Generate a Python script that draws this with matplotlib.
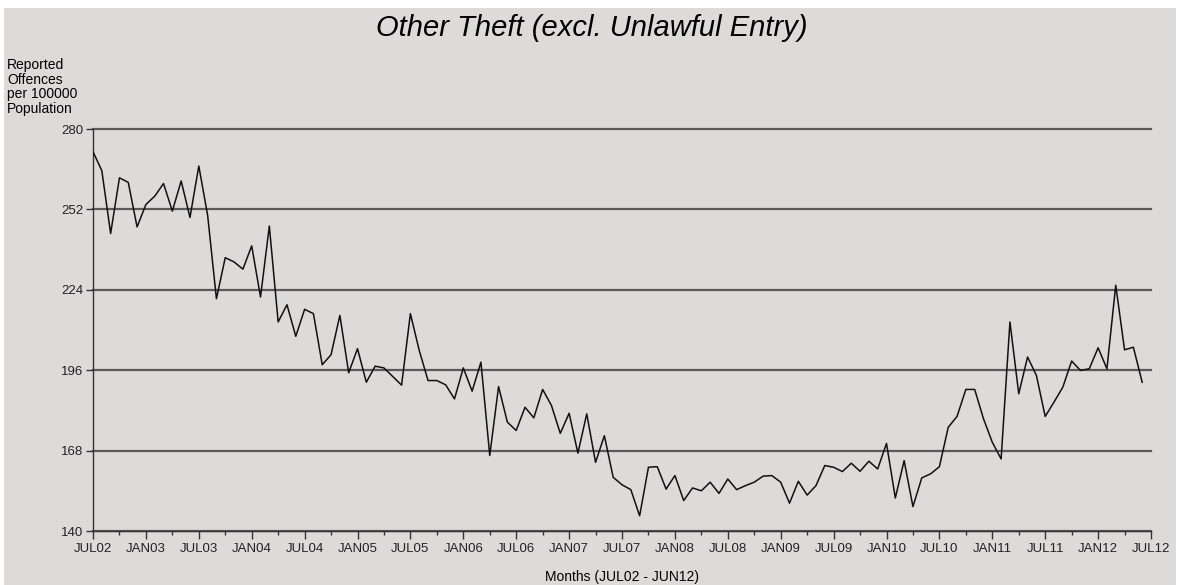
import numpy as np
import matplotlib
matplotlib.use("Agg")
from matplotlib import pyplot as plt
from matplotlib.patches import Rectangle

# Monthly rates, JUL02 .. JUN12
rates = [
    272.1, 265.5, 243.6, 263.0, 261.4, 245.9, 253.7, 256.6, 261.0, 251.4,
    261.9, 249.2, 267.1, 250.0, 220.9, 235.2, 233.7, 231.2, 239.3, 221.5,
    246.2, 212.8, 218.8, 207.8, 217.2, 215.7, 197.9, 201.4, 215.1, 195.1,
    203.5, 191.8, 197.4, 196.8, 193.8, 190.8, 215.7, 202.9, 192.4, 192.4,
    190.9, 186.0, 196.8, 188.7, 198.8, 166.3, 190.3, 177.9, 175.0, 183.1,
    179.4, 189.3, 183.7, 174.0, 181.0, 167.1, 180.8, 163.9, 173.2, 158.7,
    156.1, 154.4, 145.3, 162.2, 162.4, 154.6, 159.3, 150.6, 155.0, 154.0,
    157.0, 153.1, 158.1, 154.4, 155.8, 157.0, 159.1, 159.3, 157.0, 149.7,
    157.3, 152.5, 155.8, 162.8, 162.2, 160.7, 163.6, 160.8, 164.3, 161.6,
    170.5, 151.5, 164.5, 148.5, 158.5, 159.9, 162.4, 176.1, 179.9, 189.3,
    189.3, 179.1, 170.9, 165.1, 212.8, 187.8, 200.6, 194.2, 179.9, 184.9,
    190.1, 199.2, 195.9, 196.5, 203.8, 196.5, 225.6, 203.1, 204.0, 191.8,
]
month_labels = ["JUL02", "JAN03", "JUL03", "JAN04", "JUL04", "JAN05", "JUL05",
                "JAN06", "JUL06", "JAN07", "JUL07", "JAN08", "JUL08", "JAN09",
                "JUL09", "JAN10", "JUL10", "JAN11", "JUL11", "JAN12", "JUL12"]
y_ticks = [140, 168, 196, 224, 252, 280]

bg = '#dcdbda'
font = 'Liberation Sans'

fig = plt.figure(figsize=(11.78, 5.85), dpi=100)
fig.patch.set_facecolor('white')
# grey panel with thin white margins on top and left
panel = Rectangle((4 / 1178, 0), 1 - 6 / 1178, 1 - 8 / 585,
                  transform=fig.transFigure, facecolor=bg,
                  edgecolor='none', zorder=-10)
fig.patches.append(panel)

ax = fig.add_axes([93 / 1178, 1 - 531 / 585, (1151 - 93) / 1178, (531 - 129) / 585])
ax.set_facecolor(bg)
ax.patch.set_alpha(0)

months = np.arange(len(rates))
ax.plot(months, rates, color='#111111', linewidth=1.1, zorder=3)

ax.set_xlim(0, 120)
ax.set_ylim(140, 280)

ax.set_yticks(y_ticks)
ax.set_yticklabels([str(v) for v in y_ticks], fontname=font, fontsize=9.5, color='#222222')
ax.set_xticks(np.arange(0, 121, 6))
ax.set_xticklabels(month_labels, fontname=font, fontsize=9.5, color='#222222')
ax.set_xticks(np.arange(3, 121, 6), minor=True)

ax.tick_params(axis='y', which='major', length=5, width=1, color='#333333', pad=2)
ax.tick_params(axis='x', which='major', length=6, width=1, color='#333333', pad=3)
ax.tick_params(axis='x', which='minor', length=3, width=1, color='#333333')

ax.yaxis.grid(True, color='#5a5a5a', linewidth=1.6, zorder=1)
ax.set_axisbelow(True)
for gl in ax.get_ygridlines():
    gl.set_clip_on(False)

for s in ['top', 'right']:
    ax.spines[s].set_visible(False)
for s in ['left', 'bottom']:
    ax.spines[s].set_color('#333333')
    ax.spines[s].set_linewidth(1.0)

fig.text(592 / 1178, 1 - 28 / 585, 'Other Theft (excl. Unlawful Entry)',
         fontname=font, fontsize=21, style='italic', ha='center', va='center')
fig.text(7 / 1178, 1 - 58 / 585, 'Reported\nOffences\nper 100000\nPopulation',
         fontname=font, fontsize=10, ha='left', va='top', linespacing=1.05)
fig.text(622 / 1178, 1 - 577 / 585, 'Months (JUL02 - JUN12)',
         fontname=font, fontsize=10, ha='center', va='center')

plt.savefig("out.png", dpi=100, facecolor=fig.get_facecolor())
